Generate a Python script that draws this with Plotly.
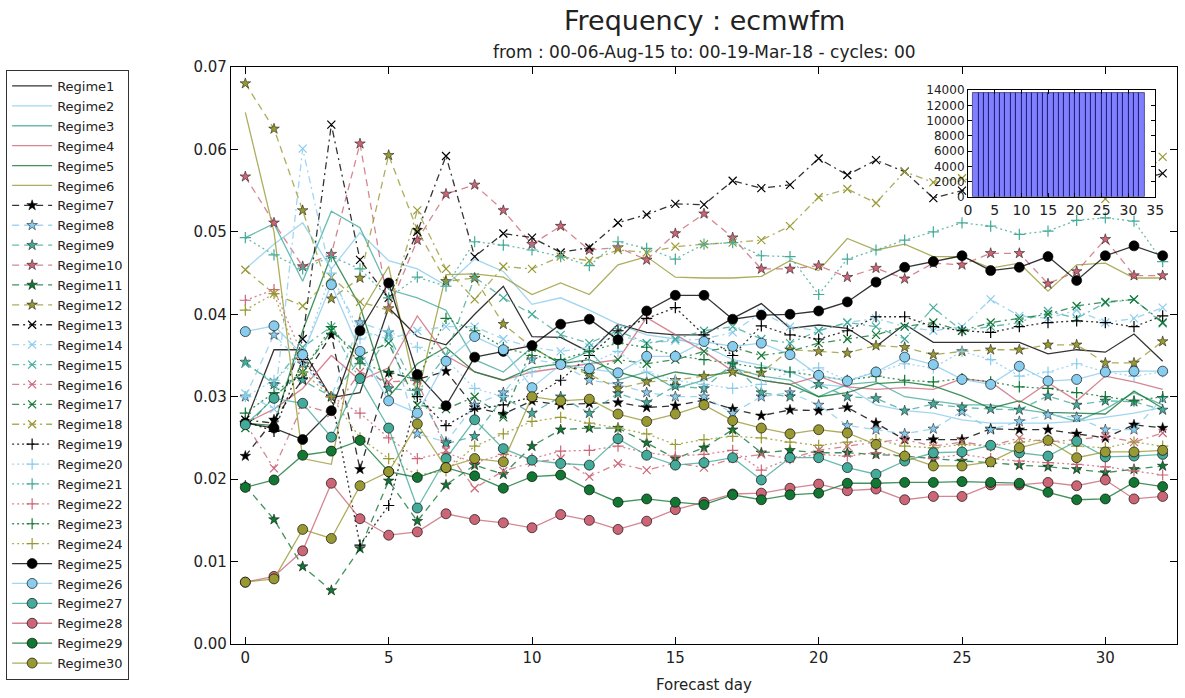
import plotly.graph_objects as go

# Forecast lead time (days)
days = list(range(33))

# Regime frequencies per forecast day
regime01 = [0.0268, 0.0357, 0.0357, 0.0299, 0.0305, 0.0408, 0.0373, 0.0363, 0.0400, 0.0434, 0.0373, 0.0372, 0.0354, 0.0388, 0.0378, 0.0375, 0.0375, 0.0395, 0.0413, 0.0383, 0.0387, 0.0383, 0.0361, 0.0388, 0.0366, 0.0366, 0.0366, 0.0366, 0.0352, 0.0357, 0.0354, 0.0376, 0.0343]
regime02 = [0.0455, 0.0485, 0.0511, 0.0455, 0.0499, 0.0465, 0.0455, 0.0435, 0.0467, 0.0452, 0.0412, 0.0420, 0.0405, 0.0388, 0.0375, 0.0370, 0.0362, 0.0345, 0.0338, 0.0330, 0.0315, 0.0312, 0.0290, 0.0283, 0.0280, 0.0272, 0.0268, 0.0268, 0.0268, 0.0270, 0.0275, 0.0280, 0.0287]
regime03 = [0.0493, 0.0510, 0.0440, 0.0525, 0.0505, 0.0430, 0.0420, 0.0405, 0.0345, 0.0330, 0.0360, 0.0340, 0.0355, 0.0320, 0.0330, 0.0310, 0.0320, 0.0335, 0.0325, 0.0320, 0.0300, 0.0315, 0.0318, 0.0300, 0.0295, 0.0290, 0.0290, 0.0285, 0.0280, 0.0270, 0.0285, 0.0305, 0.0290]
regime04 = [0.0268, 0.0285, 0.0310, 0.0350, 0.0320, 0.0335, 0.0398, 0.0350, 0.0330, 0.0320, 0.0330, 0.0335, 0.0340, 0.0345, 0.0396, 0.0375, 0.0355, 0.0331, 0.0320, 0.0315, 0.0325, 0.0312, 0.0309, 0.0311, 0.0309, 0.0322, 0.0318, 0.0293, 0.0317, 0.0295, 0.0325, 0.0318, 0.0309]
regime05 = [0.0268, 0.0265, 0.0380, 0.0472, 0.0410, 0.0300, 0.0340, 0.0360, 0.0330, 0.0320, 0.0335, 0.0340, 0.0345, 0.0330, 0.0320, 0.0330, 0.0325, 0.0330, 0.0320, 0.0315, 0.0300, 0.0305, 0.0316, 0.0318, 0.0313, 0.0301, 0.0286, 0.0295, 0.0281, 0.0280, 0.0279, 0.0307, 0.0286]
regime06 = [0.0645, 0.0500, 0.0225, 0.0218, 0.0400, 0.0458, 0.0300, 0.0448, 0.0449, 0.0445, 0.0424, 0.0438, 0.0424, 0.0460, 0.0470, 0.0445, 0.0444, 0.0444, 0.0446, 0.0465, 0.0453, 0.0492, 0.0478, 0.0485, 0.0470, 0.0470, 0.0456, 0.0462, 0.0428, 0.0460, 0.0462, 0.0444, 0.0444]
regime07 = [0.0228, 0.0272, 0.0321, 0.0375, 0.0212, 0.0329, 0.0321, 0.0331, 0.0287, 0.0279, 0.0295, 0.0290, 0.0292, 0.0293, 0.0287, 0.0289, 0.0296, 0.0285, 0.0277, 0.0284, 0.0283, 0.0287, 0.0268, 0.0248, 0.0248, 0.0248, 0.0261, 0.0260, 0.0260, 0.0255, 0.0250, 0.0266, 0.0262]
regime08 = [0.0300, 0.0375, 0.0340, 0.0300, 0.0390, 0.0378, 0.0255, 0.0245, 0.0290, 0.0305, 0.0345, 0.0340, 0.0320, 0.0315, 0.0305, 0.0300, 0.0300, 0.0280, 0.0300, 0.0305, 0.0290, 0.0265, 0.0260, 0.0255, 0.0261, 0.0282, 0.0260, 0.0270, 0.0278, 0.0275, 0.0260, 0.0260, 0.0298]
regime09 = [0.0342, 0.0315, 0.0320, 0.0300, 0.0345, 0.0310, 0.0307, 0.0243, 0.0252, 0.0299, 0.0280, 0.0300, 0.0280, 0.0304, 0.0293, 0.0313, 0.0310, 0.0340, 0.0305, 0.0300, 0.0315, 0.0300, 0.0298, 0.0283, 0.0291, 0.0287, 0.0285, 0.0284, 0.0301, 0.0290, 0.0295, 0.0294, 0.0284]
regime10 = [0.0567, 0.0511, 0.0458, 0.0473, 0.0607, 0.0407, 0.0490, 0.0546, 0.0557, 0.0526, 0.0485, 0.0507, 0.0478, 0.0481, 0.0466, 0.0498, 0.0522, 0.0493, 0.0455, 0.0455, 0.0459, 0.0445, 0.0456, 0.0443, 0.0462, 0.0460, 0.0474, 0.0474, 0.0437, 0.0452, 0.0491, 0.0447, 0.0447]
regime11 = [0.0192, 0.0151, 0.0094, 0.0065, 0.0116, 0.0198, 0.0149, 0.0193, 0.0217, 0.0206, 0.0240, 0.0260, 0.0262, 0.0262, 0.0244, 0.0225, 0.0238, 0.0260, 0.0232, 0.0235, 0.0232, 0.0232, 0.0230, 0.0228, 0.0225, 0.0222, 0.0220, 0.0217, 0.0215, 0.0212, 0.0208, 0.0212, 0.0216]
regime12 = [0.0680, 0.0625, 0.0526, 0.0419, 0.0444, 0.0593, 0.0502, 0.0440, 0.0444, 0.0388, 0.0360, 0.0340, 0.0327, 0.0310, 0.0318, 0.0320, 0.0325, 0.0330, 0.0329, 0.0357, 0.0355, 0.0353, 0.0362, 0.0360, 0.0351, 0.0355, 0.0357, 0.0357, 0.0363, 0.0363, 0.0341, 0.0341, 0.0367]
regime13 = [0.0272, 0.0268, 0.0370, 0.0630, 0.0466, 0.0420, 0.0500, 0.0592, 0.0470, 0.0498, 0.0493, 0.0475, 0.0481, 0.0511, 0.0521, 0.0534, 0.0533, 0.0562, 0.0553, 0.0557, 0.0589, 0.0569, 0.0587, 0.0573, 0.0541, 0.0550, 0.0555, 0.0591, 0.0590, 0.0599, 0.0583, 0.0561, 0.0571]
regime14 = [0.0304, 0.0285, 0.0601, 0.0445, 0.0380, 0.0370, 0.0380, 0.0385, 0.0385, 0.0370, 0.0360, 0.0355, 0.0360, 0.0375, 0.0365, 0.0368, 0.0370, 0.0378, 0.0402, 0.0385, 0.0380, 0.0390, 0.0395, 0.0385, 0.0380, 0.0385, 0.0418, 0.0398, 0.0395, 0.0405, 0.0390, 0.0395, 0.0408]
regime15 = [0.0340, 0.0318, 0.0360, 0.0385, 0.0320, 0.0375, 0.0305, 0.0350, 0.0445, 0.0420, 0.0400, 0.0375, 0.0365, 0.0380, 0.0365, 0.0370, 0.0380, 0.0385, 0.0370, 0.0365, 0.0380, 0.0390, 0.0385, 0.0370, 0.0408, 0.0380, 0.0385, 0.0390, 0.0404, 0.0395, 0.0414, 0.0418, 0.0389]
regime16 = [0.0268, 0.0213, 0.0290, 0.0280, 0.0330, 0.0318, 0.0320, 0.0235, 0.0189, 0.0210, 0.0220, 0.0225, 0.0203, 0.0219, 0.0211, 0.0220, 0.0214, 0.0225, 0.0230, 0.0225, 0.0235, 0.0240, 0.0245, 0.0248, 0.0240, 0.0245, 0.0240, 0.0250, 0.0245, 0.0248, 0.0252, 0.0245, 0.0256]
regime17 = [0.0262, 0.0300, 0.0330, 0.0380, 0.0350, 0.0365, 0.0290, 0.0285, 0.0300, 0.0275, 0.0360, 0.0340, 0.0330, 0.0345, 0.0340, 0.0345, 0.0355, 0.0360, 0.0350, 0.0355, 0.0365, 0.0370, 0.0375, 0.0385, 0.0390, 0.0380, 0.0390, 0.0395, 0.0400, 0.0410, 0.0415, 0.0418, 0.0390]
regime18 = [0.0454, 0.0425, 0.0410, 0.0445, 0.0415, 0.0405, 0.0526, 0.0455, 0.0418, 0.0458, 0.0455, 0.0470, 0.0465, 0.0478, 0.0475, 0.0482, 0.0485, 0.0487, 0.0490, 0.0507, 0.0542, 0.0552, 0.0535, 0.0573, 0.0560, 0.0565, 0.0555, 0.0570, 0.0560, 0.0555, 0.0540, 0.0560, 0.0591]
regime19 = [0.0270, 0.0258, 0.0345, 0.0300, 0.0120, 0.0168, 0.0300, 0.0265, 0.0285, 0.0290, 0.0300, 0.0320, 0.0350, 0.0380, 0.0395, 0.0408, 0.0375, 0.0350, 0.0386, 0.0375, 0.0370, 0.0380, 0.0397, 0.0397, 0.0385, 0.0380, 0.0378, 0.0385, 0.0390, 0.0392, 0.0390, 0.0385, 0.0398]
regime20 = [0.0300, 0.0320, 0.0350, 0.0450, 0.0370, 0.0380, 0.0360, 0.0345, 0.0310, 0.0300, 0.0330, 0.0345, 0.0340, 0.0355, 0.0330, 0.0320, 0.0315, 0.0310, 0.0315, 0.0330, 0.0335, 0.0320, 0.0330, 0.0340, 0.0335, 0.0355, 0.0345, 0.0325, 0.0330, 0.0340, 0.0330, 0.0325, 0.0330]
regime21 = [0.0493, 0.0472, 0.0455, 0.0470, 0.0455, 0.0420, 0.0445, 0.0434, 0.0488, 0.0484, 0.0478, 0.0470, 0.0459, 0.0488, 0.0480, 0.0467, 0.0485, 0.0487, 0.0471, 0.0470, 0.0424, 0.0467, 0.0478, 0.0490, 0.0500, 0.0511, 0.0507, 0.0497, 0.0501, 0.0514, 0.0517, 0.0513, 0.0464]
regime22 = [0.0417, 0.0430, 0.0350, 0.0300, 0.0280, 0.0250, 0.0225, 0.0232, 0.0220, 0.0230, 0.0225, 0.0234, 0.0235, 0.0240, 0.0232, 0.0228, 0.0230, 0.0235, 0.0211, 0.0225, 0.0230, 0.0228, 0.0232, 0.0228, 0.0225, 0.0230, 0.0225, 0.0222, 0.0220, 0.0218, 0.0215, 0.0210, 0.0205]
regime23 = [0.0280, 0.0305, 0.0330, 0.0385, 0.0340, 0.0330, 0.0320, 0.0395, 0.0380, 0.0360, 0.0350, 0.0345, 0.0355, 0.0365, 0.0360, 0.0350, 0.0345, 0.0340, 0.0335, 0.0330, 0.0325, 0.0320, 0.0325, 0.0320, 0.0318, 0.0322, 0.0318, 0.0312, 0.0310, 0.0305, 0.0300, 0.0295, 0.0300]
regime24 = [0.0405, 0.0425, 0.0330, 0.0300, 0.0250, 0.0225, 0.0205, 0.0210, 0.0240, 0.0255, 0.0270, 0.0275, 0.0268, 0.0262, 0.0255, 0.0242, 0.0248, 0.0252, 0.0250, 0.0245, 0.0241, 0.0245, 0.0248, 0.0240, 0.0238, 0.0242, 0.0240, 0.0245, 0.0248, 0.0240, 0.0238, 0.0245, 0.0240]
regime25 = [0.0268, 0.0262, 0.0248, 0.0283, 0.0380, 0.0438, 0.0327, 0.0289, 0.0348, 0.0355, 0.0362, 0.0388, 0.0394, 0.0369, 0.0404, 0.0423, 0.0423, 0.0394, 0.0399, 0.0400, 0.0404, 0.0415, 0.0439, 0.0457, 0.0464, 0.0471, 0.0453, 0.0457, 0.0470, 0.0441, 0.0471, 0.0483, 0.0471]
regime26 = [0.0379, 0.0386, 0.0351, 0.0436, 0.0355, 0.0295, 0.0280, 0.0343, 0.0373, 0.0357, 0.0311, 0.0339, 0.0334, 0.0329, 0.0349, 0.0349, 0.0367, 0.0361, 0.0365, 0.0351, 0.0326, 0.0319, 0.0330, 0.0348, 0.0339, 0.0321, 0.0315, 0.0337, 0.0319, 0.0321, 0.0330, 0.0331, 0.0331]
regime27 = [0.0266, 0.0298, 0.0292, 0.0251, 0.0322, 0.0262, 0.0165, 0.0225, 0.0272, 0.0237, 0.0223, 0.0219, 0.0217, 0.0249, 0.0229, 0.0217, 0.0220, 0.0226, 0.0199, 0.0226, 0.0226, 0.0214, 0.0206, 0.0222, 0.0232, 0.0233, 0.0241, 0.0232, 0.0228, 0.0246, 0.0227, 0.0228, 0.0230]
regime28 = [0.0075, 0.0082, 0.0113, 0.0195, 0.0152, 0.0132, 0.0136, 0.0158, 0.0151, 0.0147, 0.0141, 0.0157, 0.0150, 0.0139, 0.0149, 0.0163, 0.0172, 0.0182, 0.0183, 0.0189, 0.0194, 0.0186, 0.0188, 0.0175, 0.0179, 0.0179, 0.0193, 0.0193, 0.0196, 0.0192, 0.0199, 0.0176, 0.0179]
regime29 = [0.0190, 0.0199, 0.0229, 0.0234, 0.0247, 0.0209, 0.0202, 0.0214, 0.0204, 0.0189, 0.0203, 0.0205, 0.0187, 0.0172, 0.0176, 0.0172, 0.0169, 0.0181, 0.0175, 0.0181, 0.0183, 0.0195, 0.0195, 0.0196, 0.0196, 0.0197, 0.0196, 0.0195, 0.0184, 0.0175, 0.0176, 0.0196, 0.0191]
regime30 = [0.0075, 0.0079, 0.0139, 0.0128, 0.0192, 0.0209, 0.0267, 0.0214, 0.0225, 0.0221, 0.0300, 0.0295, 0.0297, 0.0279, 0.0270, 0.0279, 0.0290, 0.0271, 0.0262, 0.0255, 0.0260, 0.0256, 0.0242, 0.0228, 0.0216, 0.0216, 0.0221, 0.0238, 0.0247, 0.0226, 0.0233, 0.0233, 0.0235]

regimes = [regime01, regime02, regime03, regime04, regime05, regime06,
           regime07, regime08, regime09, regime10, regime11, regime12,
           regime13, regime14, regime15, regime16, regime17, regime18,
           regime19, regime20, regime21, regime22, regime23, regime24,
           regime25, regime26, regime27, regime28, regime29, regime30]
names = ["Regime%d" % (i + 1) for i in range(len(regimes))]

# Number of forecasts available per lead day (inset histogram)
count_days = list(range(1, 33))
counts = [13550, 13550, 13550, 13550, 13550, 13550, 13550, 13550, 13550, 13550, 13550,
          13550, 13550, 13550, 13550, 13550, 13550, 13550, 13550, 13550, 13550, 13550,
          13550, 13550, 13550, 13550, 13550, 13550, 13550, 13550, 13550, 13550]

palette = ["#000000", "#88CCEE", "#44AA99", "#CC6677", "#117733", "#999933"]


def rgba(hex_color, alpha):
    h = hex_color.lstrip("#")
    r, g, b = int(h[0:2], 16), int(h[2:4], 16), int(h[4:6], 16)
    return "rgba(%d,%d,%d,%.2f)" % (r, g, b, alpha)


# one style per group of six regimes: (dash, marker symbol)
group_styles = [
    ("solid", None),
    ("7px,5px", "star"),
    ("7px,4px,2px,4px", "x-thin-open"),
    ("2px,3px", "cross-thin-open"),
    ("solid", "circle"),
]

fig = go.Figure()

for i, (name, values) in enumerate(zip(names, regimes)):
    color = palette[i % 6]
    dash, symbol = group_styles[i // 6]
    line = dict(color=rgba(color, 0.8), width=1.3, dash=dash)
    if symbol is None:
        fig.add_trace(go.Scatter(x=days, y=values, name=name, mode="lines", line=line))
        continue
    if symbol == "star":
        marker = dict(symbol="star", size=8, color=color,
                      line=dict(color="rgba(0,0,0,0.8)", width=0.6))
    elif symbol == "circle":
        marker = dict(symbol="circle", size=10, color=color,
                      line=dict(color="rgba(0,0,0,0.8)", width=0.8))
    else:
        marker = dict(symbol=symbol, size=8, color=color,
                      line=dict(color=color, width=1.2))
    fig.add_trace(go.Scatter(x=days, y=values, name=name, mode="lines+markers",
                             line=line, marker=marker))

# inset: number of forecasts per lead day
fig.add_trace(go.Bar(x=count_days, y=counts, xaxis="x2", yaxis="y2",
                     width=1.0, offset=0, showlegend=False,
                     marker=dict(color="rgba(0,0,255,0.5)",
                                 line=dict(color="rgba(0,0,60,0.55)", width=1))))

font_family = "DejaVu Sans"
axis_common = dict(showline=True, linecolor="black", linewidth=1.3, mirror="ticks",
                   ticks="inside", ticklen=7, tickcolor="black", showgrid=False,
                   zeroline=False, tickfont=dict(family=font_family, size=15, color="#222"))
inset_common = dict(showline=True, linecolor="black", linewidth=1, mirror="ticks",
                    ticks="inside", ticklen=4, tickcolor="black", showgrid=False,
                    zeroline=False, tickfont=dict(family=font_family, size=12, color="#222"))

fig.update_layout(
    width=1185, height=698,
    margin=dict(l=231, r=8, t=67, b=54, autoexpand=False),
    paper_bgcolor="white", plot_bgcolor="white",
    font=dict(family=font_family, color="#222"),
    xaxis=dict(range=[-0.5, 32.5], tickvals=[0, 5, 10, 15, 20, 25, 30], **axis_common),
    yaxis=dict(range=[0, 0.07], dtick=0.01, tickformat=".2f", **axis_common),
    xaxis2=dict(domain=[0.779, 0.977], anchor="y2", range=[0, 35], dtick=5,
                **dict(inset_common, tickfont=dict(family=font_family, size=14, color="#222"))),
    yaxis2=dict(domain=[0.775, 0.960], anchor="x2", range=[0, 14000], dtick=2000,
                tickformat="d", **inset_common),
    showlegend=True,
    legend=dict(xref="container", yref="container", x=0.005, y=0.9,
                xanchor="left", yanchor="top", bgcolor="white", maxheight=650,
                bordercolor="#333", borderwidth=1.2, itemwidth=40,
                font=dict(family=font_family, size=13, color="#222")),
    bargap=0,
)

fig.add_annotation(text="Frequency : ecmwfm", xref="paper", yref="paper",
                   x=0.5, y=1.0813, yanchor="middle", showarrow=False,
                   font=dict(family=font_family, size=27, color="#222"))
fig.add_annotation(text="from : 00-06-Aug-15 to: 00-19-Mar-18 - cycles: 00",
                   xref="paper", yref="paper", x=0.5, y=1.026, yanchor="middle",
                   showarrow=False, font=dict(family=font_family, size=17, color="#222"))
fig.add_annotation(text="Forecast day", xref="paper", yref="paper",
                   x=0.5, y=-0.071, yanchor="middle", showarrow=False,
                   font=dict(family=font_family, size=15, color="#222"))

fig.write_html("out.html")
